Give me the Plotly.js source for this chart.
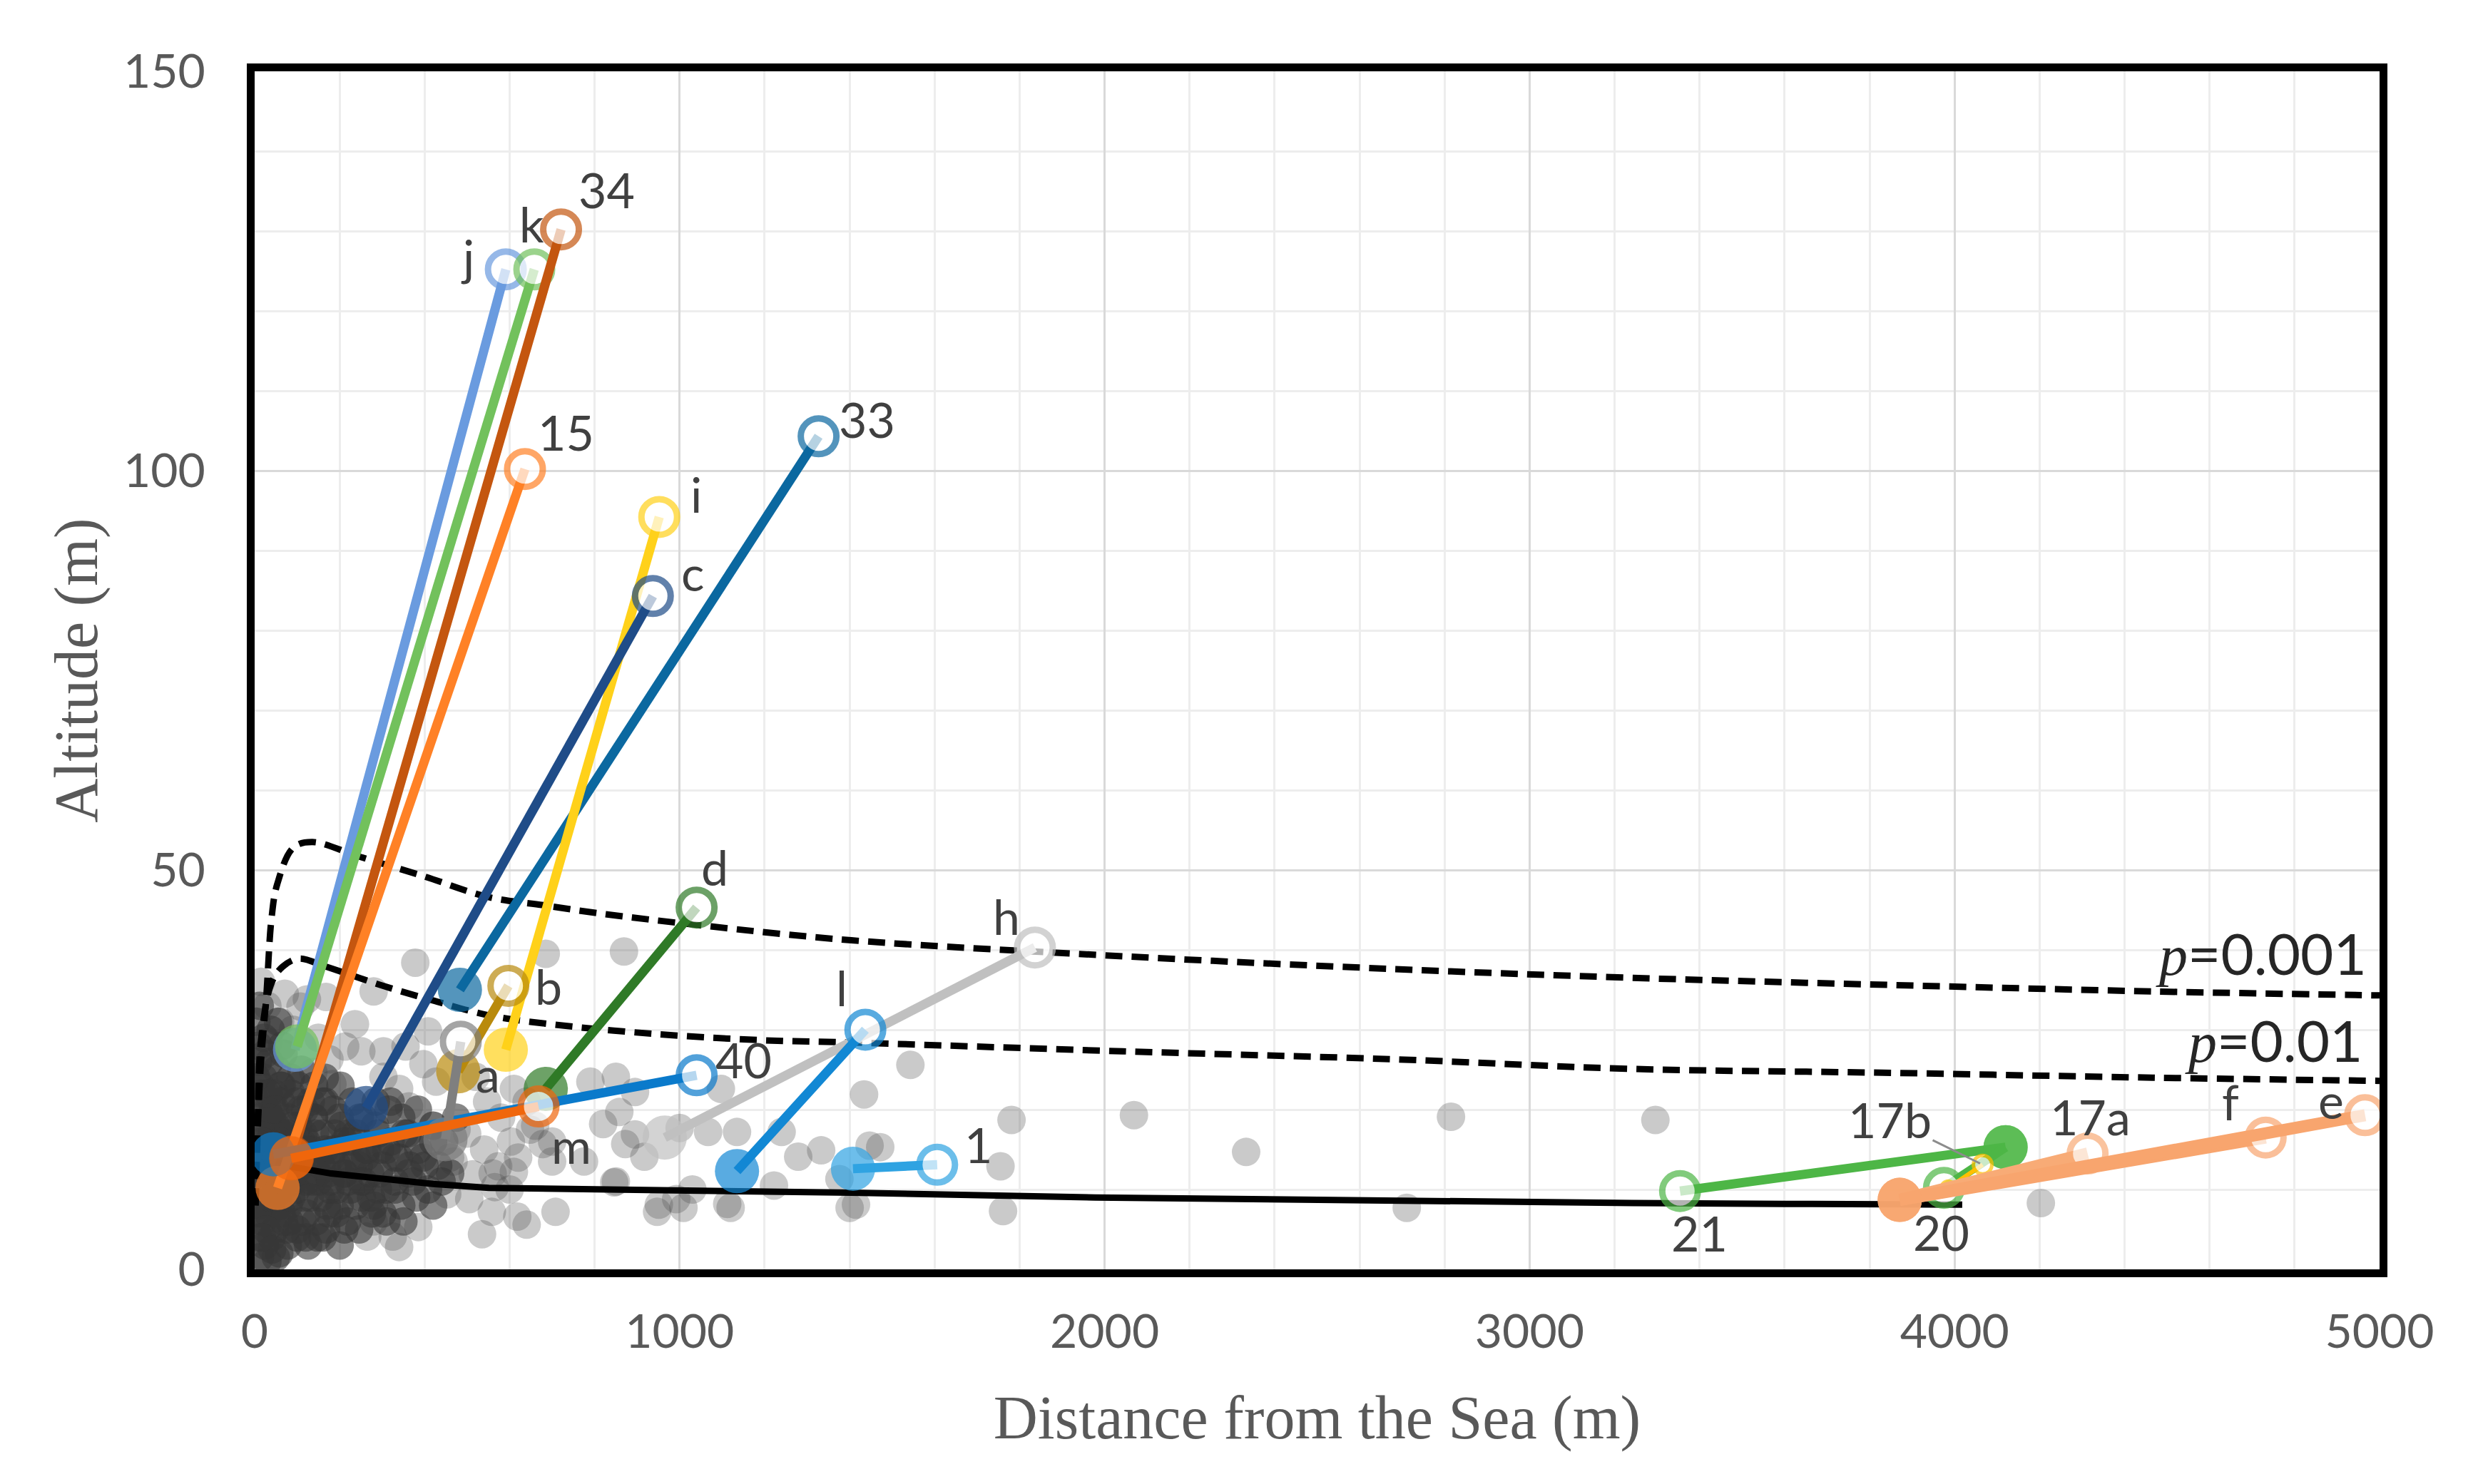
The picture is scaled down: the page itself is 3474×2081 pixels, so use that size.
<!DOCTYPE html>
<html>
<head>
<meta charset="utf-8">
<script src="https://cdn.plot.ly/plotly-3.0.1.min.js"></script>
<style>
  html, body { margin: 0; padding: 0; background: #fff; }
  #chart { width: 3474px; height: 2081px; }
</style>
</head>
<body>
<div id="chart"></div>
<script>
// site pairs: filled marker = start, open marker = end
const pairNames = ['j', 'k', '34', '15', '33', 'i', 'c', 'd', 'h', 'l', '40', 'b', 'a', 'm', '1', '21', '20', '17b', '17a', 'f', 'e'];
const startX = [95, 100, 88, 54, 483, 591, 262, 685, 965, 1135, 44, 479, 449, 86, 1408, 4120, 4120, 3985, 3871, 3871, 3871];
const startY = [27.5, 27.9, 14.0, 10.2, 35.0, 27.5, 20.2, 22.6, 16.5, 12.3, 14.4, 24.8, 16.3, 13.9, 12.6, 15.3, 15.3, 10.2, 8.7, 8.7, 8.7];
const endX = [591, 658, 721, 636, 1327, 952, 937, 1040, 1836, 1437, 1040, 597, 485, 668, 1606, 3354, 3975, 4066, 4313, 4732, 4966];
const endY = [125.2, 125.2, 130.2, 100.2, 104.3, 94.2, 84.3, 45.3, 40.3, 30.0, 24.3, 35.5, 28.5, 20.4, 13.1, 9.8, 10.2, 13.1, 14.5, 16.5, 19.3];

// boundary curves
const lowX = [50, 91, 180, 296, 420, 551, 700, 934, 1404, 1978, 2681, 3241, 3600, 4018];
const lowY = [13.4, 12.8, 12.0, 11.3, 10.7, 10.2, 10.1, 10.0, 9.6, 9.0, 8.5, 8.3, 8.2, 8.1];
const p001X = [2, 8, 15, 27, 40, 53, 91, 136, 245, 399, 551, 679, 807, 1062, 1404, 2043, 2681, 3241, 3853, 4466, 5000];
const p001Y = [8, 18.5, 26.1, 33.8, 44.1, 48.2, 52.8, 53.5, 51.7, 49.2, 46.6, 45.6, 44.6, 43.0, 41.2, 39.2, 37.6, 36.5, 35.6, 34.8, 34.3];
const p01X = [2, 8, 15, 40, 66, 104, 168, 296, 424, 551, 679, 935, 1190, 1404, 2043, 2681, 3241, 3853, 4466, 5000];
const p01Y = [8, 20, 28.7, 35.9, 37.9, 38.9, 37.9, 35.6, 33.6, 31.8, 30.8, 29.5, 28.7, 28.4, 27.3, 26.3, 25.1, 24.6, 24.0, 23.6];

// scattered sites (light gray)
const grayX = [378, 685, 869, 236, 213, 251, 303, 355, 408, 397, 427, 520, 547, 610, 603, 648, 678, 700, 790, 850, 895, 820, 858, 775, 895, 917, 1067, 1097, 1135, 850, 947, 992, 1030, 1112, 708, 618, 640, 535, 558, 505, 453, 385, 325, 340, 280, 265, 468, 513, 573, 565, 610, 475, 363, 340, 303, 176, 183, 138, 108, 71, 123, 168, 280, 33,
  1543, 1434, 1781, 2069, 2815, 3296, 2333, 1447, 1755, 1415, 1761, 2711, 4203,
  1000, 1240, 1279, 1333, 1222, 951, 1009, 1120, 1376, 1400, 1472, 846, 872,
  380, 420, 460, 500, 540, 580, 620, 660, 700, 640, 560, 600, 30, 60, 15, 90, 150];
const grayY = [38.4, 39.5, 39.8, 30.7, 27.9, 27.3, 27.3, 27.9, 29.8, 25.7, 23.5, 24.1, 21.0, 22.6, 16.0, 17.5, 15.7, 13.5, 23.5, 24.1, 22.2, 18.2, 19.7, 13.5, 16.9, 14.1, 17.2, 22.6, 17.2, 11.0, 7.2, 8.8, 10.0, 8.2, 7.2, 6.6, 5.6, 4.4, 7.2, 8.8, 9.4, 5.3, 4.1, 2.8, 6.0, 4.1, 13.5, 11.9, 12.9, 10.3, 12.2, 17.5, 20.4, 22.6, 24.1, 26.3, 23.2, 24.7, 32.9, 34.5, 33.8, 34.1, 34.8, 28.5,
  25.6, 21.9, 18.7, 19.3, 19.1, 18.7, 14.7, 15.5, 12.9, 8.1, 7.3, 7.7, 8.3,
  17.7, 17.2, 14.1, 14.9, 10.5, 8.1, 7.7, 7.7, 11.3, 7.7, 15.3, 10.9, 15.7,
  16, 18, 14, 17, 15, 19, 14, 18, 16, 21, 12, 10, 33, 31, 36, 30, 29];

// dense cloud close to the shore
const cloudX = [4, 12, 22, 38, 55, 8, 20, 35, 52, 68, 85, 110, 140, 165,
  4, 16, 30, 46, 62, 80, 98, 118, 140, 160, 185, 205, 230, 255, 285, 315, 345,
  6, 18, 34, 50, 66, 84, 102, 122, 142, 165, 188, 212, 238, 262, 290, 320, 352, 385, 420,
  5, 15, 28, 42, 58, 74, 92, 110, 130, 150, 172, 195, 220, 245, 272, 300, 330, 362, 400, 440,
  8, 20, 34, 48, 64, 80, 98, 116, 136, 156, 178, 200, 226, 252, 280, 310, 345, 380, 420,
  6, 18, 32, 48, 64, 82, 100, 122, 144, 168, 192, 218, 246, 276, 310,
  10, 24, 40, 58, 78, 100, 126, 160, 200, 12, 30, 50,
  10, 25, 45, 70, 90, 115, 135, 60, 30, 150, 180, 200, 240, 90, 40, 15, 75, 120, 170, 210,
  5, 20, 40, 62, 85, 110, 135, 160, 190, 225, 260, 295, 330, 365,
  8, 28, 50, 72, 95, 120, 148, 178, 212, 250, 290,
  4, 14, 26, 44, 64, 86, 108, 132, 6, 18, 36, 56,
  3, 11, 19, 27, 36, 44, 53, 61, 69, 77, 86, 94, 103, 112, 121, 130, 139, 148, 157, 166,
  175, 184, 193, 202, 211, 220, 229, 238, 247, 256, 265, 274, 283, 292, 301, 310, 320, 330, 340, 350,
  360, 372, 384, 396, 408, 420, 432, 446, 460, 474, 2, 9, 17, 25, 33, 41, 49, 57, 65, 73];
const cloudY = [31, 33, 29, 30, 31, 26, 24, 26, 25, 27, 24, 25, 23, 24,
  21, 22, 20, 22, 21, 19, 21, 20, 19, 21, 20, 18, 21, 19, 21, 20, 19,
  17, 18, 16, 18, 17, 16, 18, 16, 17, 15, 17, 16, 17, 15, 17, 16, 17, 15, 16,
  14, 13, 15, 13, 14, 12, 14, 13, 12, 14, 12, 13, 11, 13, 12, 13, 11, 12, 13, 11,
  10, 11, 9, 11, 10, 8, 10, 9, 11, 9, 10, 8, 10, 9, 8, 10, 8, 9, 8,
  7, 6, 7, 5, 7, 6, 5, 7, 6, 5, 7, 6, 5, 7, 6,
  4, 3, 4, 2, 3, 4, 3, 4, 3, 1.5, 1, 1.5,
  19, 15, 12, 15, 11, 17, 14, 8, 12, 11, 14, 19, 14, 18, 19, 9, 5, 4, 8, 12,
  16, 15, 17, 16, 15, 16, 15, 17, 15, 16, 14, 15, 14, 13,
  12, 13, 12, 11, 12, 11, 12, 11, 12, 11, 10,
  24, 23, 22, 20, 23, 22, 20, 21, 8, 7, 9, 8,
  12, 8, 16, 5, 19, 9, 14, 23, 6, 17, 9, 13, 23, 6, 15, 9, 19, 4, 13, 21,
  7, 15, 10, 23, 5, 17, 13, 8, 19, 11, 15, 9, 18, 12, 7, 15, 21, 10, 14, 6,
  17, 11, 20, 14, 10, 18, 13, 16, 12, 19, 24, 28, 4, 27, 22, 2.5, 20, 10, 28, 11];

const xTicks = [0, 1000, 2000, 3000, 4000, 5000];
const yTicks = [0, 50, 100, 150];

// styles
const pairColors = {
  j: '#6A9BDF', k: '#72C15C', '34': '#C4560F', '15': '#FF8126', '33': '#0B68A0',
  i: '#FFD11A', c: '#1F4C88', d: '#2F7A27', h: '#C0C0C0', l: '#1288D4', '40': '#0A7ACB',
  b: '#B98A0C', a: '#7F7F7F', m: '#F0660C', '1': '#2FA3E2', '21': '#4DB646', '20': '#4DB646',
  '17b': '#FFC000', '17a': '#F8AB76', f: '#F8A56E', e: '#F8A56E'
};
// label offsets from the open marker, in px
const labelShift = {
  j: [-54, 18], k: [-4, 64], '34': [64, 56], '15': [58, 52], '33': [68, 24], i: [52, 32],
  c: [56, 33], d: [25, 57], h: [-40, 44], l: [-33, 60], '40': [66, 22], b: [56, 0],
  a: [38, -45], m: [46, -54], '1': [58, 29], '21': [27, -58], '20': [-4, -62],
  '17a': [4, 52], f: [-49, 51], e: [-48, 21]
};

const traces = [];
traces.push({
  x: grayX, y: grayY, type: 'scatter', mode: 'markers', hoverinfo: 'skip',
  marker: { size: 40, color: 'rgba(80,80,80,0.3)', line: { width: 0 } }
});
traces.push({
  x: cloudX, y: cloudY, type: 'scatter', mode: 'markers', hoverinfo: 'skip',
  marker: { size: 40, color: 'rgba(55,55,55,0.6)', line: { width: 0 } }
});
traces.push({ x: p001X, y: p001Y, type: 'scatter', mode: 'lines', line: { color: '#000', width: 9, dash: '24px,13px', shape: 'spline' } });
traces.push({ x: p01X, y: p01Y, type: 'scatter', mode: 'lines', line: { color: '#000', width: 9, dash: '24px,13px', shape: 'spline' } });
traces.push({ x: lowX, y: lowY, type: 'scatter', mode: 'lines', line: { color: '#000', width: 9 } });

pairNames.forEach((name, i) => {
  const col = pairColors[name];
  const thin = name === '17b';
  const wide = name === '17a' || name === 'f' || name === 'e';
  traces.push({
    name: name,
    x: [startX[i], endX[i]],
    y: [startY[i], endY[i]],
    type: 'scatter',
    mode: 'lines+markers',
    line: { color: col, width: thin ? 6 : (wide ? 17 : 13) },
    marker: {
      symbol: 'circle',
      size: thin ? [24, 26] : [62, 50],
      color: [col, '#ffffff'],
      line: { color: col, width: [0, thin ? 5 : 9] }
    }
  });
});

const annotations = [];
pairNames.forEach((name, i) => {
  if (!labelShift[name]) return;
  annotations.push({
    x: endX[i], y: endY[i], text: name, showarrow: false,
    xshift: labelShift[name][0], yshift: labelShift[name][1],
    font: { family: 'Lato, sans-serif', size: 68, color: '#404040' }
  });
});
const i17b = pairNames.indexOf('17b');
annotations.push({
  x: endX[i17b], y: endY[i17b], text: '17b', showarrow: true,
  arrowhead: 0, arrowwidth: 3, arrowcolor: '#8C8C8C', ax: -130, ay: -64, standoff: 4,
  font: { family: 'Lato, sans-serif', size: 68, color: '#404040' }
});
const pFont = { family: 'Lato, sans-serif', size: 80, color: '#262626' };
const pItalic = '<span style="font-family:\'Liberation Serif\';font-style:italic">p</span>';
annotations.push({
  x: p001X[p001X.length - 1], y: p001Y[p001Y.length - 1], text: pItalic + '=0.001', showarrow: false,
  xanchor: 'right', xshift: -16, yshift: 60, font: pFont
});
annotations.push({
  x: p01X[p01X.length - 1], y: p01Y[p01Y.length - 1], text: pItalic + '=0.01', showarrow: false,
  xanchor: 'right', xshift: -22, yshift: 58, font: pFont
});

const tickFont = { family: 'Lato, sans-serif', size: 66, color: '#595959' };
const titleFont = { family: '"Liberation Serif", serif', size: 86, color: '#595959' };

const layout = {
  width: 3474, height: 2081,
  margin: { l: 357, r: 138, t: 100, b: 301 },
  paper_bgcolor: '#ffffff', plot_bgcolor: '#ffffff',
  showlegend: false,
  xaxis: {
    range: [0, 5000], tickvals: xTicks, ticktext: xTicks.map(String),
    showline: true, linecolor: '#000', linewidth: 11, mirror: true,
    showgrid: true, gridcolor: '#D9D9D9', gridwidth: 3, zeroline: false,
    minor: { dtick: 200, showgrid: true, gridcolor: '#EDEDED', gridwidth: 3 },
    ticks: 'outside', ticklen: 20, tickcolor: 'rgba(0,0,0,0)', tickfont: tickFont,
    title: { text: 'Distance from the Sea (m)', font: titleFont, standoff: 58 }
  },
  yaxis: {
    range: [0, 150], tickvals: yTicks, ticktext: yTicks.map(String),
    showline: true, linecolor: '#000', linewidth: 11, mirror: true,
    showgrid: true, gridcolor: '#D9D9D9', gridwidth: 3, zeroline: false,
    minor: { dtick: 10, showgrid: true, gridcolor: '#EDEDED', gridwidth: 3 },
    ticks: 'outside', ticklen: 45, tickcolor: 'rgba(0,0,0,0)', tickfont: tickFont,
    title: { text: 'Altitude (m)', font: titleFont, standoff: 12 }
  },
  annotations: annotations
};

Plotly.newPlot('chart', traces, layout, { staticPlot: true });
</script>
</body>
</html>
